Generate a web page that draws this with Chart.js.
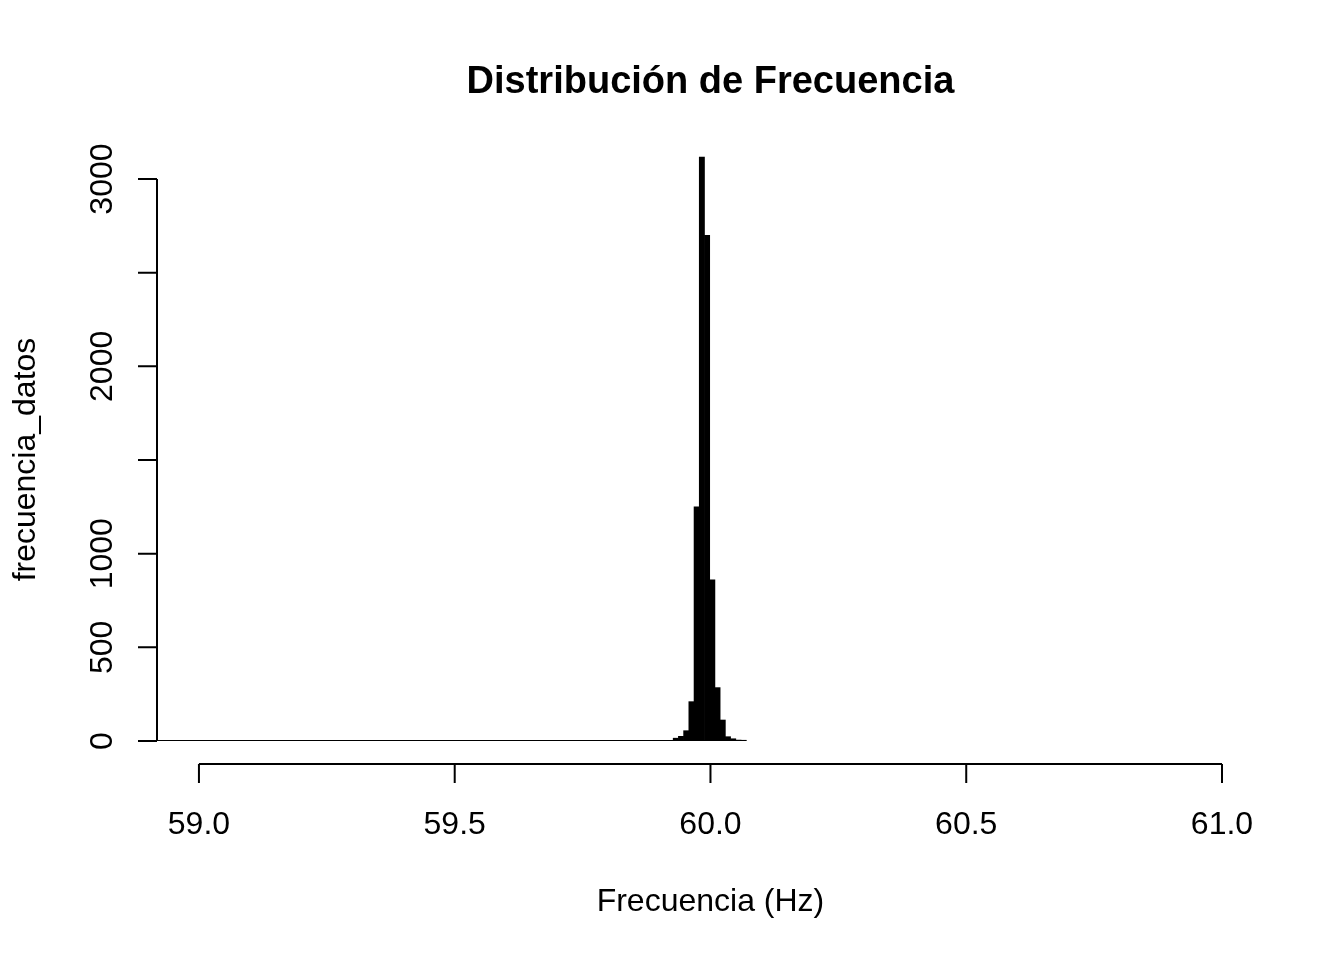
<!DOCTYPE html>
<html>
<head>
<meta charset="utf-8">
<script src="https://cdn.jsdelivr.net/npm/chart.js@4/dist/chart.umd.min.js"></script>
<style>
  html, body { margin: 0; padding: 0; background: #fff; }
  canvas { display: block; }
</style>
</head>
<body>
<canvas id="histChart" width="1344" height="960"></canvas>
<script>
"use strict";

// Bin centres (Hz) and counts
var binCenters = [59.9220, 59.9322, 59.9424, 59.9526, 59.9628, 59.9730, 59.9832, 59.9934,
                  60.0036, 60.0138, 60.0240, 60.0342, 60.0444, 60.0546, 60.0648];
var binCounts = [3, 15, 25, 55, 210, 1250, 3117, 2700, 860, 285, 112, 23, 12, 5, 4];

// zero line drawn under the bars (from the plot edge to the last bin)
var baselineX = [58.918, 60.070];

// axis ticks
var xTicks = [59.0, 59.5, 60.0, 60.5, 61.0];
var xTickLabels = ['59.0', '59.5', '60.0', '60.5', '61.0'];
var yTicks = [0, 500, 1000, 1500, 2000, 2500, 3000];
var yTickLabels = ['0', '500', '1000', '', '2000', '', '3000'];

var titleText = 'Distribución de Frecuencia';
var xTitle = 'Frecuencia (Hz)';
var yTitle = 'frecuencia_datos';

var FONT = '"Liberation Sans", Arial, sans-serif';

// R style axes, drawn from the chart scales
var rAxesPlugin = {
    id: 'rAxes',
    afterDraw: function (chart) {
        var ctx = chart.ctx;
        var xs = chart.scales.x;
        var ys = chart.scales.y;
        var area = chart.chartArea;
        var tick = 19;

        ctx.save();
        ctx.strokeStyle = '#000';
        ctx.fillStyle = '#000';
        ctx.lineWidth = 2;
        ctx.lineCap = 'butt';

        // y axis
        var ax = area.left;
        ctx.beginPath();
        ctx.moveTo(ax, ys.getPixelForValue(yTicks[0]));
        ctx.lineTo(ax, ys.getPixelForValue(yTicks[yTicks.length - 1]));
        yTicks.forEach(function (v) {
            var py = ys.getPixelForValue(v);
            ctx.moveTo(ax, py);
            ctx.lineTo(ax - tick, py);
        });
        ctx.stroke();

        ctx.font = '32px ' + FONT;
        ctx.textAlign = 'center';
        ctx.textBaseline = 'alphabetic';
        yTicks.forEach(function (v, i) {
            if (!yTickLabels[i]) return;
            ctx.save();
            ctx.translate(112, ys.getPixelForValue(v));
            ctx.rotate(-Math.PI / 2);
            ctx.fillText(yTickLabels[i], 0, 0);
            ctx.restore();
        });

        // x axis, offset below the plot
        var ay = 764;
        ctx.beginPath();
        ctx.moveTo(xs.getPixelForValue(xTicks[0]), ay);
        ctx.lineTo(xs.getPixelForValue(xTicks[xTicks.length - 1]), ay);
        xTicks.forEach(function (v) {
            var px = xs.getPixelForValue(v);
            ctx.moveTo(px, ay);
            ctx.lineTo(px, ay + tick);
        });
        ctx.stroke();

        xTicks.forEach(function (v, i) {
            ctx.fillText(xTickLabels[i], xs.getPixelForValue(v), 834);
        });

        // titles
        var cx = (xs.getPixelForValue(xTicks[0]) + xs.getPixelForValue(xTicks[xTicks.length - 1])) / 2;
        ctx.fillText(xTitle, cx, 911);

        ctx.save();
        ctx.translate(35, (area.top + area.bottom) / 2 + 14);
        ctx.rotate(-Math.PI / 2);
        ctx.fillText(yTitle, 0, 0);
        ctx.restore();

        ctx.font = 'bold 38px ' + FONT;
        ctx.fillText(titleText, cx, 93);
        ctx.restore();
    }
};

var ctx = document.getElementById('histChart').getContext('2d');
new Chart(ctx, {
    type: 'bar',
    data: {
        datasets: [{
            type: 'line',
            label: 'base',
            data: baselineX.map(function (x) { return { x: x, y: 0 }; }),
            borderColor: '#000',
            borderWidth: 2,
            pointRadius: 0,
            order: 0
        }, {
            label: yTitle,
            data: binCenters.map(function (x, i) { return { x: x, y: binCounts[i] }; }),
            backgroundColor: '#000',
            borderColor: '#000',
            borderWidth: 0,
            barPercentage: 1.0,
            categoryPercentage: 1.0,
            order: 1
        }]
    },
    options: {
        responsive: false,
        animation: false,
        devicePixelRatio: 1,
        layout: {
            padding: { left: 157, right: 122, top: 150, bottom: 219 }
        },
        scales: {
            x: {
                type: 'linear',
                min: 58.918,
                max: 61.0,
                offset: false,
                display: false
            },
            y: {
                min: 0,
                max: 3155,
                display: false
            }
        },
        plugins: {
            legend: { display: false },
            tooltip: { enabled: false }
        }
    },
    plugins: [rAxesPlugin]
});
</script>
</body>
</html>
